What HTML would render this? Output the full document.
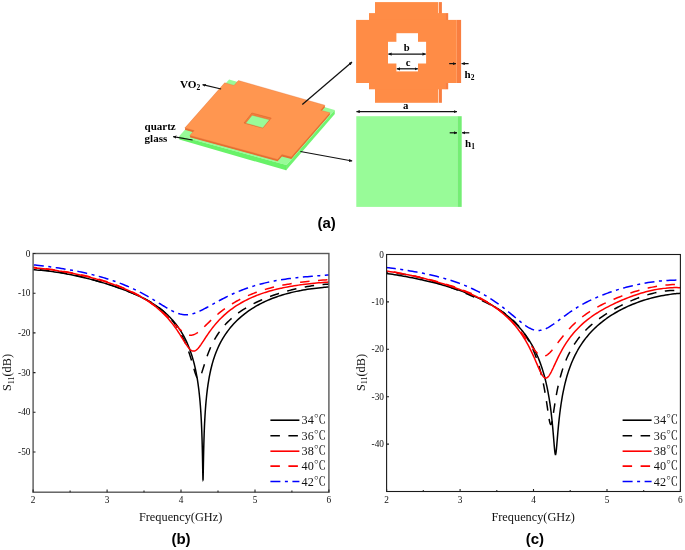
<!DOCTYPE html>
<html><head><meta charset="utf-8"><title>Figure</title>
<style>
html,body{margin:0;padding:0;background:#fff;}
svg{display:block;will-change:transform}
text{font-family:"Liberation Serif","Noto Serif CJK SC",serif;fill:#111}
.tk text{font-size:9.3px}
.lg text{font-size:12.2px}
.ax{font-size:12.3px}
.cap{font-family:"Liberation Sans",sans-serif;font-weight:bold;font-size:15px;fill:#000}
.b{font-weight:bold;font-size:12px;fill:#000}
</style></head><body>
<svg width="685" height="550" viewBox="0 0 685 550">
<defs>
<marker id="ah" viewBox="0 0 10 10" refX="9.5" refY="5" markerWidth="3.4" markerHeight="3.5" orient="auto-start-reverse" markerUnits="userSpaceOnUse"><path d="M0,0.3 L10,5 L0,9.7 z" fill="#111"/></marker>
</defs>
<rect width="685" height="550" fill="#fff"/>
<!-- 3D view -->
<polygon points="229.1,79.6 334.7,109.9 286.5,165.0 179.4,135.9" fill="#98fb98" />
<polygon points="179.4,135.9 286.5,165.0 286.1,170.3 179.3,139.6" fill="#68f268" />
<polygon points="334.7,109.9 286.5,165.0 286.1,170.3 334.8,114.1" fill="#70f470" />
<path d="M286.5,165.0 L286.1,170.3" stroke="#55e055" stroke-width="0.5"/>
<polygon points="238.4,82.3 325.0,107.1 320.7,112.0 330.0,114.6 291.3,158.9 281.9,156.4 277.6,161.2 189.8,137.3 194.2,132.4 184.8,129.8 224.7,84.6 234.0,87.2" fill="#e66e32" />
<polygon points="238.4,81.7 325.0,106.5 320.7,111.4 330.0,114.0 291.3,158.3 281.9,155.8 277.6,160.6 189.8,136.7 194.2,131.8 184.8,129.2 224.7,84.0 234.0,86.6" fill="#e66e32" />
<polygon points="238.4,81.1 325.0,105.9 320.7,110.8 330.0,113.4 291.3,157.7 281.9,155.2 277.6,160.0 189.8,136.1 194.2,131.2 184.8,128.6 224.7,83.4 234.0,86.0" fill="#e66e32" />
<polygon points="238.4,80.5 325.0,105.3 320.7,110.2 330.0,112.8 291.3,157.1 281.9,154.6 277.6,159.4 189.8,135.5 194.2,130.6 184.8,128.0 224.7,82.8 234.0,85.4" fill="#ff9650" stroke="#e2743a" stroke-width="0.35" stroke-linejoin="round"/>
<polygon points="251.9,113.0 271.2,118.1 262.8,128.0 244.0,123.0" fill="#f27c3c" stroke="#d8622a" stroke-width="0.5" stroke-linejoin="round"/>
<polygon points="252.1,115.2 269.5,119.8 262.8,127.9 245.7,123.2" fill="#98fb98" stroke="#d8622a" stroke-width="0.3"/>
<!-- top view: VO2 -->
<g fill="#f97e40">
<rect x="439" y="2.1" width="2.9" height="100.7"/>
<rect x="445.1" y="13.1" width="3.1" height="76.2"/>
<rect x="456.8" y="19.9" width="4.3" height="63.1"/>
</g>
<rect x="438.1" y="2.1" width="0.9" height="100.7" fill="#ffd9c0"/>
<g fill="#ff8c46">
<rect x="375" y="2.1" width="63.1" height="100.7"/>
<rect x="369" y="13.1" width="76.2" height="76.2"/>
<rect x="356.1" y="19.9" width="100.7" height="63.1"/>
</g>
<g fill="#fff">
<rect x="396.4" y="33.2" width="21.6" height="38.2"/>
<rect x="388" y="41.8" width="38.1" height="21.7"/>
</g>
<!-- top view: quartz -->
<rect x="356.3" y="116.2" width="101.3" height="90.7" fill="#98fb98"/>
<rect x="457.5" y="116.2" width="4.2" height="90.7" fill="#74ee74"/>
<!-- arrows -->
<g stroke="#111" stroke-width="1.25" fill="none">
<path d="M302.3,104.6 L352,62.1" marker-end="url(#ah)"/>
<path d="M300.4,151.5 L352.2,161" marker-end="url(#ah)"/>
<path d="M221.1,89 L202.6,84.7" marker-end="url(#ah)"/>
<path d="M192.6,140 L173.2,136.6" marker-end="url(#ah)"/>
<path d="M388.4,54.1 H425.7" marker-start="url(#ah)" marker-end="url(#ah)"/>
<path d="M396.8,68.8 H417.8" marker-start="url(#ah)" marker-end="url(#ah)"/>
<path d="M356.5,111.6 H456.9" marker-start="url(#ah)" marker-end="url(#ah)"/>
<path d="M449.2,63.6 H455.9" marker-end="url(#ah)"/>
<path d="M468.6,63.6 H461.6" marker-end="url(#ah)"/>
<path d="M449.7,132.8 H457" marker-end="url(#ah)"/>
<path d="M469.3,132.8 H462.1" marker-end="url(#ah)"/>
</g>
<g class="b">
<text x="179.9" y="88.1" class="b" style="font-size:11.2px">VO<tspan dy="2.1" style="font-size:7.5px">2</tspan></text>
<text x="144.6" y="130.1" class="b" style="font-size:11px">quartz</text>
<text x="144.6" y="142.3" class="b" style="font-size:11px">glass</text>
<text x="406.7" y="50.7" text-anchor="middle" class="b" style="font-size:10.6px">b</text>
<text x="408.2" y="66.4" text-anchor="middle" class="b" style="font-size:10.8px">c</text>
<text x="405.8" y="108.8" text-anchor="middle" class="b" style="font-size:10.8px">a</text>
<text x="464.6" y="77.8" class="b" style="font-size:11px">h<tspan dy="2.2" style="font-size:7.5px">2</tspan></text>
<text x="465.1" y="147.2" class="b" style="font-size:11px">h<tspan dy="2.2" style="font-size:7.5px">1</tspan></text>
</g>
<text class="cap" x="326.6" y="228.3" text-anchor="middle">(a)</text>
<!-- plot b -->
<clipPath id="cb"><rect x="33.1" y="253.5" width="295.8" height="238.7"/></clipPath>
<g clip-path="url(#cb)" fill="none" stroke-width="1.5">
<path d="M32.36,269.62 L34.58,269.82 L36.73,269.97 L36.80,269.98 L39.02,270.16 L41.23,270.35 L43.45,270.57 L45.67,270.81 L47.89,271.06 L50.11,271.33 L52.33,271.63 L53.45,271.78 L54.55,271.93 L56.76,272.26 L58.98,272.61 L61.20,272.97 L63.42,273.34 L65.64,273.74 L67.86,274.15 L68.49,274.27 L70.08,274.58 L72.29,275.02 L74.51,275.48 L76.73,275.95 L78.95,276.44 L81.17,276.95 L82.02,277.15 L83.39,277.47 L85.60,278.00 L87.82,278.56 L90.04,279.12 L92.26,279.70 L94.19,280.22 L94.48,280.30 L96.70,280.92 L98.92,281.54 L101.13,282.19 L103.35,282.85 L105.13,283.39 L105.57,283.53 L107.79,284.22 L110.01,284.93 L112.23,285.66 L114.45,286.40 L114.98,286.59 L116.66,287.17 L118.88,287.95 L121.10,288.75 L123.32,289.58 L123.83,289.77 L125.54,290.42 L127.76,291.29 L129.97,292.18 L131.80,292.93 L132.19,293.10 L134.41,294.05 L136.63,295.03 L138.85,296.05 L138.96,296.10 L141.07,297.10 L143.29,298.21 L145.40,299.30 L145.50,299.36 L147.72,300.57 L149.94,301.84 L151.19,302.58 L152.16,303.17 L154.38,304.58 L156.40,305.93 L156.60,306.07 L158.82,307.65 L161.03,309.32 L161.09,309.37 L163.25,311.11 L165.31,312.87 L165.47,313.02 L167.69,315.06 L169.10,316.44 L169.91,317.26 L172.13,319.63 L172.51,320.06 L174.34,322.20 L175.58,323.72 L176.56,325.00 L178.34,327.42 L178.78,328.06 L180.82,331.15 L181.00,331.44 L183.05,334.89 L183.22,335.19 L185.06,338.65 L185.44,339.40 L186.86,342.41 L187.66,344.19 L188.49,346.17 L189.87,349.72 L189.95,349.92 L191.26,353.67 L192.09,356.26 L192.44,357.42 L193.51,361.15 L194.31,364.26 L194.46,364.88 L195.32,368.61 L196.10,372.32 L196.53,374.59 L196.79,376.03 L197.42,379.73 L197.98,383.43 L198.49,387.11 L198.75,389.18 L198.94,390.78 L199.35,394.46 L199.72,398.12 L200.05,401.77 L200.35,405.41 L200.62,409.03 L200.86,412.64 L200.97,414.41 L201.07,416.23 L201.27,419.80 L201.44,423.35 L201.60,426.86 L201.74,430.34 L201.87,433.79 L201.99,437.17 L202.09,440.48 L202.18,443.74 L202.27,446.91 L202.34,449.96 L202.41,452.93 L202.47,455.75 L202.52,458.43 L202.57,460.93 L202.62,463.28 L202.66,465.45 L202.69,467.40 L202.73,469.20 L202.75,470.78 L202.78,472.17 L202.80,473.36 L202.82,474.44 L202.84,475.35 L202.86,476.11 L202.88,476.74 L202.89,477.29 L202.90,477.75 L202.91,478.12 L202.92,478.41 L202.93,478.66 L202.94,478.87 L202.95,479.04 L202.95,479.18 L202.96,479.30 L202.96,479.39 L202.97,479.47 L202.97,479.53 L202.98,479.58 L202.98,479.62 L202.98,479.65 L202.99,479.68 L202.99,479.70 L202.99,479.72 L202.99,479.73 L203.00,479.74 L203.00,479.75 L203.01,479.79 L203.03,479.75 L203.03,479.74 L203.03,479.73 L203.03,479.72 L203.03,479.70 L203.04,479.68 L203.04,479.66 L203.04,479.62 L203.05,479.59 L203.05,479.54 L203.05,479.48 L203.06,479.40 L203.07,479.31 L203.07,479.20 L203.08,479.06 L203.09,478.89 L203.09,478.68 L203.10,478.43 L203.11,478.14 L203.12,477.77 L203.14,477.31 L203.15,476.77 L203.16,476.15 L203.18,475.38 L203.18,475.21 L203.20,474.47 L203.22,473.40 L203.24,472.21 L203.27,470.83 L203.30,469.22 L203.33,467.47 L203.37,465.52 L203.41,463.36 L203.45,461.01 L203.50,458.52 L203.56,455.85 L203.62,453.04 L203.68,450.08 L203.76,447.05 L203.84,443.90 L203.94,440.65 L204.04,437.36 L204.15,433.98 L204.28,430.58 L204.42,427.13 L204.58,423.65 L204.76,420.14 L204.95,416.60 L205.17,413.05 L205.40,409.56 L205.41,409.48 L205.68,405.91 L205.97,402.33 L206.31,398.74 L206.67,395.15 L207.08,391.56 L207.54,387.97 L207.62,387.35 L208.04,384.37 L208.61,380.79 L209.23,377.20 L209.84,374.05 L209.93,373.62 L210.70,370.04 L211.56,366.47 L212.06,364.56 L212.52,362.90 L213.58,359.34 L214.28,357.20 L214.76,355.79 L216.08,352.25 L216.50,351.19 L217.54,348.71 L218.71,346.11 L219.16,345.18 L220.93,341.71 L220.97,341.65 L222.97,338.12 L223.15,337.83 L225.21,334.60 L225.37,334.36 L227.59,331.22 L227.69,331.09 L229.81,328.36 L230.45,327.58 L232.03,325.73 L233.51,324.07 L234.24,323.29 L236.46,321.03 L236.92,320.58 L238.68,318.92 L240.72,317.10 L240.90,316.94 L243.12,315.08 L244.93,313.65 L245.34,313.34 L247.56,311.69 L249.62,310.24 L249.77,310.14 L251.99,308.67 L254.21,307.28 L254.83,306.91 L256.43,305.97 L258.65,304.73 L260.62,303.69 L260.87,303.56 L263.08,302.45 L265.30,301.40 L267.07,300.61 L267.52,300.41 L269.74,299.47 L271.96,298.57 L274.18,297.73 L274.23,297.71 L276.40,296.93 L278.61,296.16 L280.83,295.44 L282.19,295.02 L283.05,294.76 L285.27,294.12 L287.49,293.50 L289.71,292.93 L291.05,292.59 L291.93,292.38 L294.14,291.86 L296.36,291.38 L298.58,290.92 L300.80,290.49 L300.89,290.47 L303.02,290.08 L305.24,289.70 L307.45,289.34 L309.67,289.01 L311.83,288.70 L311.89,288.70 L314.11,288.41 L316.33,288.14 L318.55,287.89 L320.77,287.66 L322.98,287.44 L324.00,287.35 L325.20,287.25 L327.42,287.07 L329.64,286.89" stroke="#000" />
<path d="M32.36,269.39 L34.58,269.60 L36.80,269.69 L39.02,269.82 L41.23,269.97 L43.45,270.15 L45.67,270.36 L47.89,270.59 L48.75,270.69 L50.11,270.85 L52.33,271.13 L54.55,271.43 L56.76,271.76 L58.98,272.10 L61.20,272.47 L63.42,272.86 L63.79,272.93 L65.64,273.27 L67.86,273.70 L70.08,274.15 L72.29,274.61 L74.51,275.10 L76.73,275.60 L77.32,275.73 L78.95,276.11 L81.17,276.64 L83.39,277.19 L85.60,277.76 L87.82,278.33 L89.49,278.78 L90.04,278.93 L92.26,279.53 L94.48,280.15 L96.70,280.79 L98.92,281.43 L100.43,281.89 L101.13,282.10 L103.35,282.77 L105.57,283.46 L107.79,284.16 L110.01,284.88 L110.28,284.97 L112.23,285.61 L114.45,286.36 L116.66,287.12 L118.88,287.89 L119.13,287.98 L121.10,288.69 L123.32,289.50 L125.54,290.33 L127.09,290.92 L127.76,291.18 L129.97,292.05 L132.19,292.95 L134.26,293.80 L134.41,293.87 L136.63,294.83 L138.85,295.82 L140.70,296.68 L141.07,296.86 L143.29,297.94 L145.50,299.09 L146.49,299.61 L147.72,300.29 L149.94,301.56 L151.70,302.63 L152.16,302.91 L154.38,304.35 L156.39,305.73 L156.60,305.88 L158.82,307.52 L160.61,308.93 L161.03,309.27 L163.25,311.16 L164.40,312.20 L165.47,313.20 L167.69,315.41 L167.81,315.54 L169.91,317.81 L170.88,318.93 L172.13,320.43 L173.64,322.36 L174.34,323.30 L176.12,325.80 L176.56,326.46 L178.35,329.25 L178.78,329.96 L180.36,332.68 L181.00,333.86 L182.16,336.08 L183.22,338.23 L183.79,339.44 L185.25,342.72 L185.44,343.17 L186.56,345.93 L187.66,348.79 L187.74,349.03 L188.81,352.01 L189.76,354.86 L189.87,355.20 L190.62,357.55 L191.40,360.07 L192.09,362.42 L192.09,362.42 L192.72,364.57 L193.28,366.53 L193.79,368.29 L194.24,369.85 L194.31,370.09 L194.65,371.23 L195.02,372.43 L195.35,373.46 L195.65,374.35 L195.91,375.10 L196.16,375.73 L196.37,376.27 L196.53,376.63 L196.57,376.71 L196.74,377.08 L196.90,377.38 L197.04,377.64 L197.17,377.85 L197.29,378.02 L197.39,378.16 L197.48,378.27 L197.56,378.37 L197.64,378.45 L197.71,378.51 L197.77,378.57 L197.82,378.61 L197.87,378.64 L197.92,378.67 L197.96,378.70 L197.99,378.72 L198.02,378.74 L198.05,378.75 L198.08,378.76 L198.10,378.77 L198.12,378.78 L198.14,378.79 L198.16,378.79 L198.17,378.80 L198.19,378.80 L198.20,378.80 L198.21,378.81 L198.22,378.81 L198.23,378.81 L198.24,378.81 L198.25,378.82 L198.25,378.82 L198.26,378.82 L198.26,378.82 L198.27,378.82 L198.27,378.82 L198.28,378.82 L198.28,378.82 L198.28,378.82 L198.29,378.82 L198.29,378.82 L198.29,378.82 L198.29,378.82 L198.29,378.82 L198.30,378.82 L198.31,378.83 L198.33,378.83 L198.33,378.83 L198.33,378.83 L198.33,378.83 L198.33,378.83 L198.34,378.83 L198.34,378.83 L198.34,378.83 L198.35,378.83 L198.35,378.83 L198.35,378.83 L198.36,378.83 L198.36,378.83 L198.37,378.83 L198.38,378.83 L198.38,378.83 L198.39,378.83 L198.40,378.83 L198.41,378.83 L198.42,378.83 L198.43,378.83 L198.45,378.83 L198.46,378.83 L198.48,378.83 L198.50,378.83 L198.52,378.82 L198.54,378.82 L198.57,378.81 L198.60,378.81 L198.63,378.80 L198.67,378.79 L198.71,378.77 L198.75,378.75 L198.75,378.75 L198.80,378.73 L198.85,378.70 L198.92,378.66 L198.98,378.61 L199.06,378.55 L199.14,378.48 L199.23,378.38 L199.34,378.27 L199.45,378.12 L199.58,377.95 L199.72,377.73 L199.88,377.46 L200.05,377.14 L200.25,376.74 L200.47,376.26 L200.71,375.68 L200.97,375.02 L200.98,375.00 L201.27,374.18 L201.60,373.23 L201.97,372.12 L202.38,370.84 L202.84,369.38 L203.18,368.26 L203.34,367.74 L203.91,365.92 L204.53,363.91 L205.23,361.73 L205.40,361.19 L206.00,359.39 L206.86,356.89 L207.62,354.79 L207.82,354.26 L208.88,351.52 L209.84,349.18 L210.06,348.67 L211.37,345.74 L212.06,344.30 L212.84,342.74 L214.28,340.02 L214.46,339.69 L216.27,336.60 L216.50,336.23 L218.27,333.49 L218.71,332.84 L220.50,330.35 L220.93,329.79 L222.99,327.21 L223.15,327.01 L225.37,324.47 L225.75,324.06 L227.59,322.13 L228.81,320.92 L229.81,319.97 L232.03,317.96 L232.22,317.79 L234.24,316.09 L236.02,314.68 L236.46,314.33 L238.68,312.69 L240.23,311.59 L240.90,311.13 L243.12,309.66 L244.92,308.53 L245.34,308.27 L247.56,306.95 L249.77,305.70 L250.13,305.50 L251.99,304.50 L254.21,303.36 L255.92,302.51 L256.43,302.27 L258.65,301.23 L260.87,300.23 L262.37,299.58 L263.08,299.27 L265.30,298.35 L267.52,297.47 L269.53,296.70 L269.74,296.62 L271.96,295.81 L274.18,295.03 L276.40,294.28 L277.49,293.92 L278.61,293.55 L280.83,292.86 L283.05,292.19 L285.27,291.55 L286.35,291.25 L287.49,290.94 L289.71,290.35 L291.93,289.79 L294.14,289.25 L296.19,288.78 L296.36,288.74 L298.58,288.25 L300.80,287.79 L303.02,287.35 L305.24,286.94 L307.13,286.60 L307.45,286.55 L309.67,286.18 L311.89,285.84 L314.11,285.52 L316.33,285.23 L318.55,284.97 L319.30,284.89 L320.77,284.73 L322.98,284.52 L325.20,284.33 L327.42,284.17 L329.64,283.94" stroke="#000" stroke-dasharray="9.5 8.5" stroke-dashoffset="10.54"/>
<path d="M32.36,267.69 L34.58,267.93 L36.80,268.13 L39.02,268.34 L41.23,268.57 L43.45,268.81 L43.84,268.85 L45.67,269.07 L47.89,269.34 L50.11,269.62 L52.33,269.92 L54.55,270.24 L56.76,270.57 L58.88,270.90 L58.98,270.92 L61.20,271.28 L63.42,271.65 L65.64,272.04 L67.86,272.44 L70.08,272.86 L72.29,273.30 L72.41,273.32 L74.51,273.75 L76.73,274.21 L78.95,274.69 L81.17,275.19 L83.39,275.71 L84.58,275.99 L85.60,276.24 L87.82,276.78 L90.04,277.35 L92.26,277.93 L94.48,278.53 L95.53,278.82 L96.70,279.15 L98.92,279.79 L101.13,280.44 L103.35,281.12 L105.37,281.76 L105.57,281.82 L107.79,282.54 L110.01,283.29 L112.23,284.06 L114.22,284.77 L114.45,284.85 L116.66,285.67 L118.88,286.52 L121.10,287.39 L122.19,287.83 L123.32,288.30 L125.54,289.24 L127.76,290.21 L129.35,290.93 L129.97,291.22 L132.19,292.26 L134.41,293.35 L135.79,294.05 L136.63,294.48 L138.85,295.67 L141.07,296.90 L141.58,297.20 L143.29,298.19 L145.50,299.55 L146.80,300.37 L147.72,300.97 L149.94,302.47 L151.48,303.56 L152.16,304.05 L154.38,305.72 L155.70,306.76 L156.60,307.48 L158.82,309.35 L159.49,309.94 L161.03,311.33 L162.90,313.10 L163.25,313.44 L165.47,315.69 L165.97,316.22 L167.69,318.09 L168.73,319.27 L169.91,320.65 L171.21,322.24 L172.13,323.39 L173.44,325.10 L174.34,326.32 L175.45,327.85 L176.56,329.44 L177.25,330.45 L178.78,332.75 L178.88,332.90 L180.34,335.18 L181.00,336.23 L181.65,337.27 L182.83,339.18 L183.22,339.80 L183.90,340.89 L184.85,342.42 L185.44,343.33 L185.71,343.76 L186.49,344.93 L187.18,345.93 L187.66,346.59 L187.81,346.80 L188.37,347.53 L188.88,348.14 L189.33,348.66 L189.74,349.09 L189.87,349.22 L190.11,349.45 L190.44,349.74 L190.74,349.99 L191.01,350.19 L191.25,350.35 L191.46,350.49 L191.66,350.60 L191.83,350.69 L191.99,350.77 L192.09,350.81 L192.13,350.83 L192.26,350.88 L192.38,350.92 L192.48,350.95 L192.57,350.98 L192.66,351.00 L192.73,351.02 L192.80,351.04 L192.86,351.05 L192.91,351.06 L192.96,351.07 L193.01,351.08 L193.05,351.08 L193.08,351.09 L193.12,351.09 L193.14,351.10 L193.17,351.10 L193.19,351.10 L193.21,351.10 L193.23,351.11 L193.25,351.11 L193.27,351.11 L193.28,351.11 L193.29,351.11 L193.30,351.11 L193.31,351.11 L193.32,351.11 L193.33,351.11 L193.34,351.11 L193.34,351.12 L193.35,351.12 L193.36,351.12 L193.36,351.12 L193.36,351.12 L193.37,351.12 L193.37,351.12 L193.37,351.12 L193.38,351.12 L193.38,351.12 L193.38,351.12 L193.38,351.12 L193.39,351.12 L193.39,351.12 L193.40,351.12 L193.42,351.12 L193.42,351.12 L193.42,351.12 L193.42,351.12 L193.43,351.12 L193.43,351.12 L193.43,351.12 L193.43,351.12 L193.44,351.12 L193.44,351.12 L193.45,351.12 L193.45,351.12 L193.46,351.12 L193.46,351.12 L193.47,351.12 L193.48,351.12 L193.48,351.12 L193.49,351.12 L193.50,351.12 L193.51,351.12 L193.53,351.12 L193.54,351.12 L193.56,351.12 L193.57,351.12 L193.59,351.12 L193.61,351.12 L193.64,351.12 L193.66,351.12 L193.69,351.12 L193.72,351.12 L193.76,351.12 L193.80,351.11 L193.84,351.11 L193.89,351.10 L193.95,351.10 L194.01,351.09 L194.07,351.08 L194.15,351.07 L194.23,351.05 L194.31,351.04 L194.33,351.03 L194.43,351.01 L194.54,350.98 L194.67,350.94 L194.81,350.89 L194.97,350.83 L195.15,350.75 L195.34,350.66 L195.56,350.54 L195.80,350.40 L196.07,350.22 L196.37,350.00 L196.53,349.87 L196.70,349.74 L197.06,349.41 L197.47,349.02 L197.93,348.54 L198.44,347.97 L198.75,347.59 L199.00,347.29 L199.62,346.48 L200.32,345.53 L200.97,344.61 L201.09,344.43 L201.95,343.16 L202.91,341.71 L203.18,341.29 L203.97,340.09 L205.15,338.28 L205.40,337.90 L206.47,336.29 L207.62,334.58 L207.93,334.13 L209.55,331.80 L209.84,331.40 L211.36,329.33 L212.06,328.41 L213.36,326.73 L214.28,325.60 L215.60,324.02 L216.50,322.98 L218.08,321.22 L218.71,320.53 L220.84,318.34 L220.93,318.24 L223.15,316.10 L223.90,315.40 L225.37,314.09 L227.31,312.43 L227.59,312.21 L229.81,310.44 L231.11,309.45 L232.03,308.78 L234.24,307.21 L235.32,306.48 L236.46,305.73 L238.68,304.34 L240.01,303.54 L240.90,303.02 L243.12,301.77 L245.22,300.65 L245.34,300.60 L247.56,299.48 L249.77,298.42 L251.02,297.85 L251.99,297.42 L254.21,296.47 L256.43,295.57 L257.46,295.17 L258.65,294.72 L260.87,293.91 L263.08,293.15 L264.62,292.64 L265.30,292.42 L267.52,291.74 L269.74,291.08 L271.96,290.47 L272.58,290.30 L274.18,289.88 L276.40,289.32 L278.61,288.80 L280.83,288.29 L281.44,288.16 L283.05,287.82 L285.27,287.37 L287.49,286.94 L289.71,286.54 L291.28,286.26 L291.93,286.15 L294.14,285.79 L296.36,285.44 L298.58,285.12 L300.80,284.81 L302.22,284.62 L303.02,284.51 L305.24,284.23 L307.45,283.97 L309.67,283.72 L311.89,283.48 L314.11,283.26 L314.39,283.23 L316.33,283.05 L318.55,282.85 L320.77,282.66 L322.98,282.48 L325.20,282.31 L327.42,282.15 L327.92,282.11 L329.64,282.00" stroke="#f00" />
<path d="M32.36,267.22 L34.58,267.46 L36.80,267.69 L39.02,267.93 L40.79,268.13 L41.23,268.18 L43.45,268.44 L45.67,268.71 L47.89,269.00 L50.11,269.29 L52.33,269.60 L54.55,269.92 L55.83,270.11 L56.76,270.25 L58.98,270.59 L61.20,270.95 L63.42,271.32 L65.64,271.71 L67.86,272.10 L69.36,272.38 L70.08,272.51 L72.29,272.94 L74.51,273.38 L76.73,273.83 L78.95,274.30 L81.17,274.79 L81.52,274.87 L83.39,275.29 L85.60,275.81 L87.82,276.35 L90.04,276.90 L92.26,277.47 L92.47,277.53 L94.48,278.06 L96.70,278.68 L98.92,279.31 L101.13,279.96 L102.31,280.32 L103.35,280.63 L105.57,281.33 L107.79,282.05 L110.01,282.80 L111.16,283.20 L112.23,283.57 L114.45,284.37 L116.66,285.20 L118.88,286.06 L119.13,286.15 L121.10,286.95 L123.32,287.87 L125.54,288.82 L126.29,289.16 L127.76,289.82 L129.97,290.85 L132.19,291.92 L132.73,292.18 L134.41,293.03 L136.63,294.19 L138.53,295.21 L138.85,295.39 L141.07,296.65 L143.29,297.96 L143.74,298.24 L145.50,299.33 L147.72,300.77 L148.43,301.23 L149.94,302.26 L152.16,303.83 L152.64,304.18 L154.38,305.47 L156.43,307.06 L156.60,307.18 L158.82,308.98 L159.84,309.84 L161.03,310.86 L162.91,312.51 L163.25,312.82 L165.47,314.87 L165.67,315.05 L167.69,316.99 L168.15,317.44 L169.91,319.19 L170.38,319.67 L172.13,321.44 L172.39,321.71 L174.20,323.57 L174.34,323.73 L175.82,325.25 L176.56,326.01 L177.28,326.74 L178.60,328.04 L178.78,328.23 L179.78,329.18 L180.84,330.17 L181.00,330.31 L181.80,331.01 L182.66,331.72 L183.22,332.16 L183.43,332.32 L184.12,332.82 L184.75,333.24 L185.31,333.59 L185.44,333.66 L185.82,333.88 L186.27,334.12 L186.68,334.31 L187.05,334.47 L187.38,334.61 L187.66,334.71 L187.68,334.72 L187.95,334.81 L188.19,334.88 L188.41,334.94 L188.60,334.99 L188.78,335.03 L188.93,335.06 L189.08,335.09 L189.20,335.11 L189.32,335.13 L189.42,335.15 L189.51,335.16 L189.60,335.17 L189.67,335.18 L189.74,335.19 L189.80,335.19 L189.86,335.20 L189.87,335.20 L189.91,335.20 L189.95,335.21 L189.99,335.21 L190.02,335.21 L190.06,335.21 L190.09,335.22 L190.11,335.22 L190.14,335.22 L190.16,335.22 L190.18,335.22 L190.19,335.22 L190.21,335.22 L190.22,335.22 L190.23,335.22 L190.25,335.23 L190.26,335.23 L190.26,335.23 L190.27,335.23 L190.28,335.23 L190.29,335.23 L190.29,335.23 L190.30,335.23 L190.30,335.23 L190.31,335.23 L190.31,335.23 L190.31,335.23 L190.32,335.23 L190.32,335.23 L190.32,335.23 L190.32,335.23 L190.33,335.23 L190.33,335.23 L190.33,335.23 L190.35,335.23 L190.36,335.23 L190.36,335.23 L190.36,335.23 L190.37,335.23 L190.37,335.23 L190.37,335.23 L190.37,335.23 L190.38,335.23 L190.38,335.23 L190.38,335.23 L190.39,335.23 L190.39,335.23 L190.40,335.23 L190.40,335.23 L190.41,335.23 L190.42,335.23 L190.43,335.23 L190.43,335.23 L190.44,335.23 L190.46,335.23 L190.47,335.23 L190.48,335.23 L190.50,335.23 L190.51,335.23 L190.53,335.23 L190.55,335.23 L190.58,335.23 L190.60,335.23 L190.63,335.23 L190.66,335.23 L190.70,335.23 L190.74,335.23 L190.78,335.23 L190.83,335.23 L190.89,335.23 L190.95,335.23 L191.02,335.22 L191.09,335.22 L191.18,335.21 L191.27,335.21 L191.37,335.20 L191.49,335.19 L191.61,335.17 L191.76,335.15 L191.91,335.13 L192.09,335.10 L192.09,335.10 L192.28,335.06 L192.50,335.02 L192.74,334.96 L193.01,334.89 L193.31,334.80 L193.64,334.69 L194.01,334.55 L194.31,334.42 L194.42,334.38 L194.87,334.17 L195.38,333.91 L195.94,333.60 L196.53,333.25 L196.57,333.22 L197.26,332.76 L198.03,332.21 L198.75,331.67 L198.89,331.55 L199.85,330.77 L200.91,329.86 L200.97,329.81 L202.09,328.79 L203.18,327.78 L203.41,327.57 L204.87,326.17 L205.40,325.65 L206.49,324.59 L207.62,323.50 L208.30,322.84 L209.84,321.36 L210.31,320.91 L212.06,319.27 L212.54,318.82 L214.28,317.24 L215.02,316.58 L216.50,315.29 L217.78,314.20 L218.71,313.42 L220.85,311.70 L220.93,311.63 L223.15,309.92 L224.26,309.10 L225.37,308.30 L227.59,306.75 L228.05,306.44 L229.81,305.28 L232.03,303.87 L232.27,303.73 L234.24,302.54 L236.46,301.27 L236.95,301.00 L238.68,300.06 L240.90,298.91 L242.16,298.28 L243.12,297.82 L245.34,296.77 L247.56,295.78 L247.96,295.61 L249.77,294.84 L251.99,293.94 L254.21,293.08 L254.40,293.01 L256.43,292.27 L258.65,291.49 L260.87,290.76 L261.56,290.53 L263.08,290.06 L265.30,289.39 L267.52,288.75 L269.53,288.21 L269.74,288.15 L271.96,287.58 L274.18,287.03 L276.40,286.51 L278.38,286.07 L278.61,286.02 L280.83,285.55 L283.05,285.10 L285.27,284.68 L287.49,284.28 L288.22,284.15 L289.71,283.89 L291.93,283.53 L294.14,283.19 L296.36,282.86 L298.58,282.55 L299.17,282.48 L300.80,282.26 L303.02,281.98 L305.24,281.72 L307.45,281.47 L309.67,281.24 L311.33,281.07 L311.89,281.02 L314.11,280.81 L316.33,280.61 L318.55,280.42 L320.77,280.25 L322.98,280.08 L324.86,279.95 L325.20,279.93 L327.42,279.78 L329.64,279.65" stroke="#f00" stroke-dasharray="9.5 8.5" stroke-dashoffset="4.65"/>
<path d="M32.36,264.80 L34.58,265.02 L35.55,265.12 L36.80,265.26 L39.02,265.50 L41.23,265.75 L43.45,266.02 L45.67,266.29 L47.89,266.56 L50.11,266.85 L50.59,266.92 L52.33,267.15 L54.55,267.46 L56.76,267.78 L58.98,268.11 L61.20,268.45 L63.42,268.80 L64.12,268.92 L65.64,269.17 L67.86,269.55 L70.08,269.93 L72.29,270.34 L74.51,270.75 L76.29,271.10 L76.73,271.18 L78.95,271.63 L81.17,272.09 L83.39,272.56 L85.60,273.05 L87.23,273.42 L87.82,273.56 L90.04,274.09 L92.26,274.63 L94.48,275.19 L96.70,275.77 L97.07,275.87 L98.92,276.37 L101.13,277.00 L103.35,277.64 L105.57,278.30 L105.93,278.41 L107.79,278.99 L110.01,279.70 L112.23,280.44 L113.89,281.01 L114.45,281.20 L116.66,281.99 L118.88,282.81 L121.05,283.64 L121.10,283.66 L123.32,284.53 L125.54,285.44 L127.50,286.26 L127.76,286.37 L129.97,287.34 L132.19,288.34 L133.29,288.85 L134.41,289.38 L136.63,290.45 L138.50,291.38 L138.85,291.56 L141.07,292.70 L143.19,293.83 L143.29,293.88 L145.50,295.09 L147.40,296.16 L147.72,296.34 L149.94,297.62 L151.20,298.36 L152.16,298.93 L154.38,300.27 L154.61,300.41 L156.60,301.62 L157.67,302.29 L158.82,303.00 L160.43,304.00 L161.03,304.38 L162.92,305.54 L163.25,305.75 L165.15,306.91 L165.47,307.10 L167.16,308.10 L167.69,308.42 L168.96,309.15 L169.91,309.67 L170.58,310.04 L172.05,310.81 L172.13,310.85 L173.36,311.46 L174.34,311.92 L174.54,312.01 L175.60,312.47 L176.56,312.85 L176.56,312.85 L177.42,313.17 L178.19,313.44 L178.78,313.63 L178.89,313.66 L179.51,313.84 L180.08,314.00 L180.58,314.12 L181.00,314.22 L181.04,314.23 L181.45,314.31 L181.82,314.38 L182.15,314.44 L182.44,314.49 L182.71,314.53 L182.95,314.57 L183.17,314.59 L183.22,314.60 L183.36,314.62 L183.54,314.64 L183.70,314.66 L183.84,314.67 L183.97,314.68 L184.08,314.69 L184.19,314.70 L184.28,314.71 L184.36,314.71 L184.44,314.72 L184.50,314.72 L184.57,314.73 L184.62,314.73 L184.67,314.74 L184.71,314.74 L184.75,314.74 L184.79,314.74 L184.82,314.74 L184.85,314.75 L184.88,314.75 L184.90,314.75 L184.92,314.75 L184.94,314.75 L184.96,314.75 L184.97,314.75 L184.99,314.75 L185.00,314.75 L185.01,314.75 L185.02,314.75 L185.03,314.75 L185.04,314.75 L185.04,314.75 L185.05,314.76 L185.06,314.76 L185.06,314.76 L185.07,314.76 L185.07,314.76 L185.07,314.76 L185.08,314.76 L185.08,314.76 L185.08,314.76 L185.09,314.76 L185.09,314.76 L185.09,314.76 L185.09,314.76 L185.09,314.76 L185.11,314.76 L185.12,314.76 L185.12,314.76 L185.13,314.76 L185.13,314.76 L185.13,314.76 L185.13,314.76 L185.14,314.76 L185.14,314.76 L185.14,314.76 L185.15,314.76 L185.15,314.76 L185.16,314.76 L185.16,314.76 L185.17,314.76 L185.17,314.76 L185.18,314.76 L185.19,314.76 L185.20,314.76 L185.21,314.76 L185.22,314.76 L185.23,314.76 L185.25,314.76 L185.26,314.76 L185.28,314.76 L185.30,314.76 L185.32,314.76 L185.34,314.77 L185.37,314.77 L185.40,314.77 L185.43,314.77 L185.44,314.77 L185.46,314.77 L185.50,314.77 L185.55,314.77 L185.60,314.77 L185.65,314.77 L185.71,314.77 L185.78,314.77 L185.86,314.78 L185.94,314.78 L186.03,314.78 L186.14,314.78 L186.25,314.77 L186.38,314.77 L186.52,314.77 L186.68,314.77 L186.85,314.76 L187.05,314.75 L187.26,314.74 L187.50,314.73 L187.66,314.72 L187.77,314.71 L188.07,314.68 L188.40,314.65 L188.77,314.61 L189.18,314.55 L189.64,314.49 L189.87,314.45 L190.14,314.40 L190.70,314.30 L191.33,314.16 L192.02,314.00 L192.09,313.98 L192.80,313.79 L193.66,313.54 L194.31,313.33 L194.61,313.23 L195.68,312.85 L196.53,312.52 L196.86,312.39 L198.17,311.84 L198.75,311.59 L199.63,311.18 L200.97,310.55 L201.26,310.41 L203.06,309.50 L203.18,309.43 L205.07,308.44 L205.40,308.26 L207.30,307.23 L207.62,307.05 L209.78,305.86 L209.84,305.82 L212.06,304.59 L212.54,304.32 L214.28,303.36 L215.61,302.62 L216.50,302.13 L218.71,300.93 L219.02,300.76 L220.93,299.74 L222.81,298.76 L223.15,298.59 L225.37,297.46 L227.03,296.63 L227.59,296.36 L229.81,295.29 L231.72,294.40 L232.03,294.26 L234.24,293.26 L236.46,292.30 L236.93,292.10 L238.68,291.37 L240.90,290.48 L242.72,289.77 L243.12,289.62 L245.34,288.80 L247.56,288.01 L249.16,287.46 L249.77,287.25 L251.99,286.53 L254.21,285.85 L256.33,285.22 L256.43,285.19 L258.65,284.57 L260.87,283.98 L263.08,283.42 L264.29,283.13 L265.30,282.89 L267.52,282.38 L269.74,281.90 L271.96,281.45 L273.14,281.22 L274.18,281.02 L276.40,280.61 L278.61,280.22 L280.83,279.85 L282.99,279.52 L283.05,279.51 L285.27,279.18 L287.49,278.86 L289.71,278.57 L291.93,278.28 L293.93,278.04 L294.14,278.02 L296.36,277.76 L298.58,277.52 L300.80,277.29 L303.02,277.06 L305.24,276.85 L306.10,276.77 L307.45,276.65 L309.67,276.45 L311.89,276.27 L314.11,276.08 L316.33,275.91 L318.55,275.74 L319.63,275.65 L320.77,275.57 L322.98,275.40 L325.20,275.24 L327.42,275.08 L329.64,274.95" stroke="#00f" stroke-dasharray="10 4.5 3 4.5" stroke-dashoffset="20.49"/>
</g>
<rect x="33.1" y="253.5" width="295.8" height="238.7" fill="none" stroke="#585858" stroke-width="1.4"/>
<path d="M33.1,492.2 v-2.6 M70.1,492.2 v-1.6 M107.1,492.2 v-2.6 M144.0,492.2 v-1.6 M181.0,492.2 v-2.6 M218.0,492.2 v-1.6 M255.0,492.2 v-2.6 M291.9,492.2 v-1.6 M328.9,492.2 v-2.6 M33.1,253.5 h2.4 M33.1,293.2 h2.4 M33.1,332.9 h2.4 M33.1,372.6 h2.4 M33.1,412.3 h2.4 M33.1,452.0 h2.4" stroke="#222" stroke-width="1.1" fill="none"/>
<g class="tk">
<text x="33.1" y="503.4" text-anchor="middle">2</text>
<text x="107.1" y="503.4" text-anchor="middle">3</text>
<text x="181.0" y="503.4" text-anchor="middle">4</text>
<text x="255.0" y="503.4" text-anchor="middle">5</text>
<text x="328.9" y="503.4" text-anchor="middle">6</text>
<text x="30.5" y="256.6" text-anchor="end">0</text>
<text x="30.5" y="296.3" text-anchor="end">-10</text>
<text x="30.5" y="336.0" text-anchor="end">-20</text>
<text x="30.5" y="375.7" text-anchor="end">-30</text>
<text x="30.5" y="415.4" text-anchor="end">-40</text>
<text x="30.5" y="455.1" text-anchor="end">-50</text>
</g>
<g stroke-width="1.6" fill="none">
<path d="M270.4,420.2 h29" stroke="#000" />
<path d="M270.4,435.8 h29" stroke="#000" stroke-dasharray="9.5 8.5"/>
<path d="M270.4,451.2 h29" stroke="#f00" />
<path d="M270.4,466.1 h29" stroke="#f00" stroke-dasharray="9.5 8.5"/>
<path d="M270.4,481.5 h29" stroke="#00f" stroke-dasharray="10 4.5 3 4.5"/>
</g>
<g class="lg">
<text x="301.6" y="424.4">34℃</text>
<text x="301.6" y="440.0">36℃</text>
<text x="301.6" y="455.4">38℃</text>
<text x="301.6" y="470.3">40℃</text>
<text x="301.6" y="485.7">42℃</text>
</g>
<text class="ax" x="180.6" y="521.4" text-anchor="middle">Frequency(GHz)</text>
<text class="ax" transform="translate(11.1,372.5) rotate(-90)" text-anchor="middle">S<tspan dy="2.5" style="font-size:8px">11</tspan><tspan dy="-2.5">(dB)</tspan></text>
<text class="cap" x="181.0" y="543.7" text-anchor="middle">(b)</text>
<!-- plot c -->
<clipPath id="cc"><rect x="386.6" y="254.5" width="293.8" height="237.0"/></clipPath>
<g clip-path="url(#cc)" fill="none" stroke-width="1.5">
<path d="M385.87,273.37 L388.07,273.68 L390.27,274.01 L390.33,274.02 L392.48,274.35 L394.68,274.70 L396.88,275.06 L399.09,275.43 L401.29,275.81 L403.49,276.20 L405.70,276.60 L406.94,276.82 L407.90,277.00 L410.10,277.42 L412.31,277.85 L414.51,278.29 L416.71,278.74 L418.92,279.20 L421.12,279.68 L421.88,279.84 L423.33,280.16 L425.53,280.66 L427.73,281.18 L429.94,281.70 L432.14,282.25 L434.34,282.80 L435.31,283.05 L436.55,283.37 L438.75,283.96 L440.95,284.56 L443.16,285.18 L445.36,285.82 L447.40,286.42 L447.56,286.47 L449.77,287.15 L451.97,287.84 L454.17,288.56 L456.38,289.29 L458.27,289.94 L458.58,290.05 L460.78,290.83 L462.99,291.64 L465.19,292.47 L467.40,293.33 L468.05,293.59 L469.60,294.21 L471.80,295.13 L474.01,296.07 L476.21,297.05 L476.84,297.34 L478.41,298.06 L480.62,299.11 L482.82,300.20 L484.75,301.18 L485.02,301.32 L487.23,302.49 L489.43,303.71 L491.63,304.98 L491.86,305.11 L493.84,306.30 L496.04,307.67 L498.24,309.11 L498.26,309.13 L500.45,310.62 L502.65,312.20 L504.01,313.22 L504.85,313.86 L507.06,315.60 L509.19,317.38 L509.26,317.44 L511.47,319.38 L513.67,321.43 L513.85,321.60 L515.87,323.61 L518.03,325.88 L518.08,325.92 L520.28,328.39 L521.80,330.19 L522.48,331.03 L524.69,333.86 L525.19,334.53 L526.89,336.91 L528.24,338.90 L529.09,340.22 L530.98,343.28 L531.30,343.83 L533.44,347.68 L533.50,347.79 L535.66,352.07 L535.70,352.17 L537.65,356.47 L537.91,357.07 L539.44,360.86 L540.11,362.62 L541.06,365.24 L542.31,369.00 L542.51,369.61 L543.81,373.95 L544.52,376.50 L544.99,378.28 L546.04,382.58 L546.72,385.59 L546.99,386.85 L547.85,391.08 L548.61,395.26 L548.92,397.07 L549.30,399.39 L549.93,403.45 L550.49,407.44 L550.99,411.34 L551.13,412.49 L551.44,415.14 L551.85,418.81 L552.21,422.35 L552.54,425.73 L552.84,428.94 L553.10,431.96 L553.33,434.62 L553.34,434.76 L553.56,437.35 L553.75,439.70 L553.93,441.82 L554.08,443.72 L554.22,445.39 L554.35,446.85 L554.46,448.11 L554.57,449.19 L554.66,450.10 L554.74,450.87 L554.82,451.52 L554.88,452.06 L554.94,452.50 L555.00,452.87 L555.05,453.18 L555.09,453.42 L555.13,453.63 L555.17,453.79 L555.20,453.93 L555.23,454.04 L555.25,454.13 L555.28,454.21 L555.30,454.27 L555.32,454.31 L555.33,454.35 L555.35,454.39 L555.36,454.41 L555.37,454.43 L555.38,454.45 L555.39,454.47 L555.40,454.48 L555.41,454.49 L555.42,454.49 L555.43,454.50 L555.43,454.50 L555.44,454.51 L555.44,454.51 L555.45,454.51 L555.45,454.52 L555.45,454.52 L555.46,454.52 L555.46,454.52 L555.46,454.52 L555.46,454.52 L555.47,454.52 L555.47,454.52 L555.47,454.53 L555.48,454.53 L555.50,454.53 L555.50,454.53 L555.50,454.53 L555.50,454.53 L555.51,454.53 L555.51,454.53 L555.51,454.52 L555.51,454.52 L555.52,454.52 L555.52,454.52 L555.53,454.52 L555.53,454.52 L555.54,454.51 L555.54,454.51 L555.54,454.51 L555.55,454.50 L555.56,454.50 L555.56,454.49 L555.57,454.48 L555.58,454.46 L555.59,454.45 L555.61,454.43 L555.62,454.41 L555.63,454.38 L555.65,454.34 L555.67,454.29 L555.69,454.24 L555.71,454.16 L555.74,454.08 L555.77,453.97 L555.80,453.84 L555.84,453.68 L555.88,453.48 L555.92,453.24 L555.97,452.94 L556.02,452.58 L556.08,452.14 L556.15,451.61 L556.23,450.98 L556.31,450.21 L556.40,449.32 L556.50,448.25 L556.62,447.01 L556.74,445.57 L556.88,443.92 L557.04,442.04 L557.22,439.94 L557.41,437.62 L557.62,435.07 L557.74,433.73 L557.86,432.29 L558.13,429.31 L558.43,426.16 L558.75,422.82 L559.12,419.33 L559.53,415.71 L559.94,412.27 L559.98,411.98 L560.48,408.15 L561.04,404.24 L561.66,400.26 L562.15,397.40 L562.35,396.23 L563.12,392.15 L563.98,388.04 L564.35,386.36 L564.92,383.90 L565.98,379.74 L566.55,377.65 L567.15,375.57 L568.46,371.39 L568.76,370.50 L569.91,367.21 L570.96,364.44 L571.52,363.03 L573.16,359.19 L573.32,358.85 L575.31,354.68 L575.37,354.57 L577.53,350.53 L577.57,350.45 L579.77,346.73 L579.99,346.38 L581.98,343.35 L582.73,342.26 L584.18,340.25 L585.78,338.16 L586.38,337.40 L588.59,334.75 L589.17,334.09 L590.79,332.29 L592.93,330.05 L592.99,329.99 L595.20,327.83 L597.12,326.05 L597.40,325.80 L599.61,323.89 L601.78,322.11 L601.81,322.08 L604.01,320.37 L606.22,318.75 L606.95,318.22 L608.42,317.20 L610.62,315.74 L612.71,314.41 L612.83,314.34 L615.03,313.00 L617.23,311.73 L619.11,310.70 L619.44,310.52 L621.64,309.36 L623.84,308.26 L626.05,307.20 L626.22,307.12 L628.25,306.19 L630.45,305.23 L632.66,304.31 L634.13,303.72 L634.86,303.43 L637.06,302.60 L639.27,301.80 L641.47,301.04 L642.92,300.56 L643.67,300.32 L645.88,299.64 L648.08,298.99 L650.29,298.38 L652.49,297.80 L652.70,297.75 L654.69,297.26 L656.90,296.75 L659.10,296.27 L661.30,295.83 L663.51,295.42 L663.57,295.41 L665.71,295.04 L667.91,294.69 L670.12,294.38 L672.32,294.10 L674.52,293.84 L675.66,293.73 L676.73,293.62 L678.93,293.44 L681.13,293.22" stroke="#000" />
<path d="M385.87,272.89 L388.07,273.00 L390.27,273.05 L392.48,273.15 L394.68,273.29 L396.88,273.47 L399.09,273.70 L401.29,273.96 L402.20,274.08 L403.49,274.26 L405.70,274.60 L407.90,274.97 L410.10,275.38 L412.31,275.81 L414.51,276.28 L416.71,276.78 L417.14,276.88 L418.92,277.31 L421.12,277.87 L423.33,278.45 L425.53,279.06 L427.73,279.69 L429.94,280.35 L430.57,280.54 L432.14,281.03 L434.34,281.73 L436.55,282.44 L438.75,283.18 L440.95,283.94 L442.66,284.53 L443.16,284.71 L445.36,285.50 L447.56,286.30 L449.77,287.12 L451.97,287.96 L453.53,288.56 L454.17,288.81 L456.38,289.67 L458.58,290.54 L460.78,291.43 L462.99,292.33 L463.31,292.46 L465.19,293.24 L467.40,294.17 L469.60,295.10 L471.80,296.05 L472.10,296.18 L474.01,297.02 L476.21,297.99 L478.41,298.99 L480.01,299.71 L480.62,299.99 L482.82,301.02 L485.02,302.06 L487.12,303.08 L487.23,303.14 L489.43,304.24 L491.63,305.38 L493.52,306.40 L493.84,306.57 L496.04,307.82 L498.24,309.13 L499.28,309.76 L500.45,310.51 L502.65,311.97 L504.45,313.23 L504.85,313.52 L507.06,315.18 L509.11,316.82 L509.26,316.95 L511.47,318.85 L513.29,320.54 L513.67,320.90 L515.87,323.12 L517.06,324.40 L518.08,325.53 L520.28,328.15 L520.45,328.36 L522.48,331.01 L523.50,332.42 L524.69,334.15 L526.24,336.55 L526.89,337.62 L528.70,340.75 L529.09,341.46 L530.92,344.98 L531.30,345.76 L532.91,349.25 L533.50,350.60 L534.70,353.52 L535.70,356.11 L536.32,357.79 L537.77,362.03 L537.91,362.46 L539.07,366.24 L540.11,369.89 L540.25,370.39 L541.30,374.49 L542.25,378.49 L542.31,378.77 L543.11,382.41 L543.87,386.21 L544.52,389.61 L544.57,389.87 L545.19,393.39 L545.75,396.74 L546.25,399.90 L546.70,402.86 L546.72,402.99 L547.11,405.60 L547.47,408.11 L547.80,410.38 L548.10,412.42 L548.36,414.23 L548.60,415.82 L548.82,417.20 L548.92,417.86 L549.01,418.39 L549.19,419.41 L549.34,420.27 L549.48,420.99 L549.61,421.59 L549.72,422.10 L549.83,422.52 L549.92,422.86 L550.00,423.15 L550.08,423.38 L550.14,423.57 L550.20,423.73 L550.26,423.86 L550.31,423.97 L550.35,424.05 L550.39,424.12 L550.43,424.18 L550.46,424.23 L550.49,424.27 L550.51,424.30 L550.54,424.33 L550.56,424.35 L550.58,424.37 L550.59,424.38 L550.61,424.39 L550.62,424.40 L550.63,424.41 L550.64,424.42 L550.65,424.43 L550.66,424.43 L550.67,424.43 L550.68,424.44 L550.69,424.44 L550.69,424.44 L550.70,424.45 L550.70,424.45 L550.71,424.45 L550.71,424.45 L550.71,424.45 L550.72,424.45 L550.72,424.45 L550.72,424.45 L550.72,424.45 L550.73,424.45 L550.73,424.45 L550.73,424.45 L550.74,424.46 L550.76,424.46 L550.76,424.46 L550.76,424.46 L550.76,424.46 L550.77,424.46 L550.77,424.46 L550.77,424.46 L550.77,424.46 L550.78,424.46 L550.78,424.46 L550.79,424.46 L550.79,424.46 L550.80,424.46 L550.80,424.46 L550.81,424.46 L550.82,424.46 L550.82,424.46 L550.83,424.45 L550.84,424.45 L550.85,424.45 L550.87,424.44 L550.88,424.44 L550.90,424.43 L550.91,424.42 L550.93,424.41 L550.95,424.40 L550.98,424.38 L551.00,424.35 L551.03,424.32 L551.06,424.29 L551.10,424.24 L551.13,424.19 L551.14,424.18 L551.18,424.11 L551.23,424.02 L551.28,423.91 L551.34,423.77 L551.41,423.60 L551.49,423.39 L551.57,423.13 L551.66,422.82 L551.76,422.43 L551.88,421.96 L552.00,421.40 L552.15,420.72 L552.30,419.91 L552.48,418.96 L552.67,417.83 L552.88,416.52 L553.12,415.01 L553.33,413.67 L553.39,413.28 L553.69,411.34 L554.02,409.17 L554.38,406.78 L554.79,404.17 L555.24,401.36 L555.54,399.58 L555.74,398.36 L556.30,395.19 L556.92,391.87 L557.61,388.41 L557.74,387.82 L558.38,384.85 L559.24,381.20 L559.94,378.39 L560.19,377.47 L561.24,373.69 L562.15,370.71 L562.41,369.86 L563.72,366.01 L564.35,364.29 L565.17,362.15 L566.55,358.80 L566.78,358.27 L568.58,354.40 L568.76,354.04 L570.57,350.54 L570.96,349.84 L572.79,346.69 L573.16,346.08 L575.25,342.86 L575.37,342.70 L577.57,339.61 L577.99,339.05 L579.77,336.79 L581.04,335.27 L581.98,334.18 L584.18,331.77 L584.43,331.51 L586.38,329.51 L588.19,327.77 L588.59,327.40 L590.79,325.41 L592.38,324.04 L592.99,323.53 L595.20,321.75 L597.04,320.33 L597.40,320.06 L599.61,318.44 L601.81,316.89 L602.21,316.62 L604.01,315.41 L606.22,313.98 L607.97,312.88 L608.42,312.60 L610.62,311.26 L612.83,309.98 L614.37,309.10 L615.03,308.73 L617.23,307.52 L619.44,306.35 L621.48,305.30 L621.64,305.22 L623.84,304.13 L626.05,303.07 L628.25,302.06 L629.39,301.54 L630.45,301.07 L632.66,300.13 L634.86,299.22 L637.06,298.35 L638.18,297.93 L639.27,297.52 L641.47,296.73 L643.67,295.98 L645.88,295.27 L647.96,294.64 L648.08,294.60 L650.29,293.98 L652.49,293.40 L654.69,292.86 L656.90,292.38 L658.83,291.99 L659.10,291.94 L661.30,291.55 L663.51,291.22 L665.71,290.94 L667.91,290.71 L670.12,290.54 L670.92,290.49 L672.32,290.43 L674.52,290.38 L676.73,290.40 L678.93,290.47 L681.13,290.37" stroke="#000" stroke-dasharray="9.5 8.5" stroke-dashoffset="7.19"/>
<path d="M385.87,270.98 L388.07,271.31 L390.27,271.65 L392.48,272.00 L394.68,272.37 L396.88,272.75 L397.06,272.78 L399.09,273.14 L401.29,273.54 L403.49,273.96 L405.70,274.39 L407.90,274.83 L410.10,275.29 L412.00,275.69 L412.31,275.76 L414.51,276.24 L416.71,276.74 L418.92,277.24 L421.12,277.77 L423.33,278.30 L425.44,278.83 L425.53,278.85 L427.73,279.42 L429.94,279.99 L432.14,280.59 L434.34,281.20 L436.55,281.82 L437.53,282.10 L438.75,282.46 L440.95,283.12 L443.16,283.79 L445.36,284.48 L447.56,285.19 L448.40,285.46 L449.77,285.92 L451.97,286.67 L454.17,287.44 L456.38,288.23 L458.17,288.89 L458.58,289.05 L460.78,289.88 L462.99,290.75 L465.19,291.64 L466.97,292.38 L467.40,292.56 L469.60,293.50 L471.80,294.48 L474.01,295.50 L474.88,295.91 L476.21,296.55 L478.41,297.63 L480.62,298.76 L481.99,299.48 L482.82,299.93 L485.02,301.15 L487.23,302.41 L488.39,303.10 L489.43,303.74 L491.63,305.12 L493.84,306.57 L494.14,306.78 L496.04,308.10 L498.24,309.71 L499.32,310.52 L500.45,311.40 L502.65,313.19 L503.98,314.31 L504.85,315.08 L507.06,317.09 L508.16,318.14 L509.26,319.22 L511.47,321.50 L511.93,322.00 L513.67,323.93 L515.32,325.86 L515.87,326.53 L518.08,329.32 L518.36,329.70 L520.28,332.32 L521.10,333.50 L522.48,335.56 L523.57,337.24 L524.69,339.05 L525.79,340.90 L526.89,342.83 L527.78,344.44 L529.09,346.92 L529.57,347.86 L531.19,351.11 L531.30,351.34 L532.64,354.19 L533.50,356.08 L533.94,357.07 L535.12,359.74 L535.70,361.09 L536.17,362.18 L537.12,364.39 L537.91,366.22 L537.97,366.38 L538.74,368.13 L539.43,369.67 L540.05,371.01 L540.11,371.13 L540.61,372.16 L541.12,373.14 L541.57,373.97 L541.98,374.67 L542.31,375.21 L542.34,375.26 L542.67,375.74 L542.97,376.15 L543.23,376.48 L543.47,376.76 L543.69,376.99 L543.88,377.18 L544.05,377.33 L544.21,377.46 L544.35,377.57 L544.48,377.65 L544.52,377.68 L544.59,377.72 L544.70,377.78 L544.79,377.83 L544.87,377.87 L544.94,377.90 L545.01,377.93 L545.07,377.95 L545.13,377.97 L545.18,377.99 L545.22,378.00 L545.26,378.01 L545.29,378.02 L545.33,378.03 L545.35,378.03 L545.38,378.04 L545.40,378.04 L545.42,378.05 L545.44,378.05 L545.46,378.05 L545.48,378.06 L545.49,378.06 L545.50,378.06 L545.51,378.06 L545.52,378.06 L545.53,378.06 L545.54,378.07 L545.55,378.07 L545.55,378.07 L545.56,378.07 L545.56,378.07 L545.57,378.07 L545.57,378.07 L545.58,378.07 L545.58,378.07 L545.58,378.07 L545.59,378.07 L545.59,378.07 L545.59,378.07 L545.59,378.07 L545.60,378.07 L545.60,378.07 L545.61,378.07 L545.63,378.07 L545.63,378.07 L545.63,378.07 L545.63,378.07 L545.63,378.08 L545.64,378.08 L545.64,378.08 L545.64,378.08 L545.65,378.08 L545.65,378.08 L545.65,378.08 L545.66,378.08 L545.66,378.08 L545.67,378.08 L545.68,378.08 L545.68,378.08 L545.69,378.08 L545.70,378.08 L545.71,378.08 L545.72,378.08 L545.73,378.08 L545.75,378.08 L545.76,378.08 L545.78,378.08 L545.80,378.08 L545.82,378.08 L545.84,378.08 L545.87,378.08 L545.90,378.08 L545.93,378.08 L545.97,378.07 L546.00,378.07 L546.05,378.06 L546.10,378.06 L546.15,378.05 L546.21,378.04 L546.28,378.02 L546.35,378.00 L546.44,377.98 L546.53,377.95 L546.63,377.90 L546.72,377.87 L546.75,377.85 L546.87,377.79 L547.01,377.71 L547.17,377.61 L547.34,377.49 L547.54,377.33 L547.75,377.14 L547.99,376.91 L548.26,376.62 L548.55,376.27 L548.88,375.84 L548.92,375.78 L549.25,375.32 L549.66,374.69 L550.11,373.94 L550.61,373.05 L551.13,372.08 L551.17,372.00 L551.79,370.77 L552.48,369.35 L553.25,367.73 L553.33,367.55 L554.10,365.89 L555.05,363.84 L555.54,362.80 L556.11,361.57 L557.28,359.10 L557.74,358.15 L558.59,356.43 L559.94,353.76 L560.04,353.58 L561.65,350.57 L562.15,349.69 L563.44,347.43 L564.35,345.92 L565.44,344.17 L566.55,342.45 L567.65,340.82 L568.76,339.26 L570.12,337.40 L570.96,336.30 L572.86,333.93 L573.16,333.57 L575.37,331.03 L575.91,330.43 L577.57,328.66 L579.29,326.92 L579.77,326.46 L581.98,324.39 L583.06,323.42 L584.18,322.44 L586.38,320.61 L587.25,319.92 L588.59,318.89 L590.79,317.25 L591.90,316.45 L592.99,315.69 L595.20,314.21 L597.08,313.00 L597.40,312.80 L599.61,311.45 L601.81,310.15 L602.84,309.56 L604.01,308.90 L606.22,307.70 L608.42,306.54 L609.23,306.11 L610.62,305.41 L612.83,304.32 L615.03,303.26 L616.35,302.64 L617.23,302.24 L619.44,301.24 L621.64,300.29 L623.84,299.36 L624.26,299.19 L626.05,298.46 L628.25,297.60 L630.45,296.76 L632.66,295.96 L633.05,295.82 L634.86,295.19 L637.06,294.45 L639.27,293.75 L641.47,293.08 L642.83,292.68 L643.67,292.44 L645.88,291.84 L648.08,291.27 L650.29,290.74 L652.49,290.25 L653.70,289.99 L654.69,289.79 L656.90,289.38 L659.10,289.00 L661.30,288.67 L663.51,288.38 L665.71,288.14 L665.78,288.13 L667.91,287.94 L670.12,287.78 L672.32,287.68 L674.52,287.62 L676.73,287.62 L678.93,287.67 L679.22,287.68 L681.13,287.60" stroke="#f00" />
<path d="M385.87,270.49 L388.07,270.88 L390.27,271.28 L392.48,271.69 L394.58,272.08 L394.68,272.10 L396.88,272.52 L399.09,272.94 L401.29,273.37 L403.49,273.80 L405.70,274.24 L407.90,274.69 L409.52,275.03 L410.10,275.15 L412.31,275.62 L414.51,276.09 L416.71,276.57 L418.92,277.06 L421.12,277.57 L422.95,277.99 L423.33,278.08 L425.53,278.60 L427.73,279.14 L429.94,279.69 L432.14,280.25 L434.34,280.83 L435.04,281.02 L436.55,281.42 L438.75,282.03 L440.95,282.65 L443.16,283.30 L445.36,283.96 L445.91,284.13 L447.56,284.64 L449.77,285.34 L451.97,286.06 L454.17,286.81 L455.69,287.33 L456.38,287.58 L458.58,288.37 L460.78,289.20 L462.99,290.05 L464.48,290.64 L465.19,290.93 L467.40,291.84 L469.60,292.79 L471.80,293.78 L472.39,294.05 L474.01,294.80 L476.21,295.86 L478.41,296.97 L479.50,297.53 L480.62,298.12 L482.82,299.32 L485.02,300.57 L485.90,301.09 L487.23,301.88 L489.43,303.24 L491.63,304.67 L491.66,304.68 L493.84,306.16 L496.04,307.72 L496.83,308.30 L498.24,309.36 L500.45,311.07 L501.49,311.91 L502.65,312.87 L504.85,314.77 L505.68,315.50 L507.06,316.76 L509.26,318.85 L509.44,319.02 L511.47,321.05 L512.83,322.47 L513.67,323.36 L515.87,325.80 L515.88,325.80 L518.08,328.35 L518.62,329.00 L520.28,331.04 L521.08,332.05 L522.48,333.84 L523.30,334.91 L524.69,336.75 L525.29,337.57 L526.89,339.75 L527.09,340.02 L528.70,342.26 L529.09,342.80 L530.15,344.26 L531.30,345.83 L531.46,346.05 L532.63,347.62 L533.50,348.75 L533.69,348.98 L534.63,350.16 L535.49,351.17 L535.70,351.41 L536.26,352.02 L536.95,352.74 L537.57,353.35 L537.91,353.65 L538.13,353.85 L538.63,354.26 L539.08,354.61 L539.49,354.89 L539.85,355.12 L540.11,355.27 L540.18,355.32 L540.48,355.47 L540.75,355.60 L540.99,355.71 L541.20,355.79 L541.39,355.86 L541.57,355.92 L541.72,355.97 L541.87,356.01 L541.99,356.04 L542.11,356.07 L542.21,356.09 L542.30,356.10 L542.31,356.11 L542.38,356.12 L542.46,356.13 L542.53,356.14 L542.59,356.15 L542.64,356.16 L542.69,356.16 L542.73,356.17 L542.77,356.17 L542.81,356.17 L542.84,356.18 L542.87,356.18 L542.89,356.18 L542.92,356.18 L542.94,356.18 L542.96,356.18 L542.98,356.19 L542.99,356.19 L543.00,356.19 L543.02,356.19 L543.03,356.19 L543.04,356.19 L543.05,356.19 L543.05,356.19 L543.06,356.19 L543.07,356.19 L543.07,356.19 L543.08,356.19 L543.08,356.19 L543.09,356.19 L543.09,356.19 L543.10,356.19 L543.10,356.19 L543.10,356.19 L543.10,356.19 L543.11,356.19 L543.11,356.19 L543.11,356.19 L543.11,356.19 L543.13,356.19 L543.14,356.19 L543.14,356.19 L543.14,356.19 L543.15,356.19 L543.15,356.19 L543.15,356.19 L543.15,356.19 L543.16,356.19 L543.16,356.19 L543.16,356.19 L543.17,356.19 L543.17,356.19 L543.18,356.19 L543.18,356.19 L543.19,356.19 L543.20,356.19 L543.21,356.19 L543.22,356.19 L543.22,356.19 L543.24,356.19 L543.25,356.19 L543.26,356.19 L543.28,356.19 L543.29,356.19 L543.31,356.19 L543.33,356.19 L543.36,356.19 L543.38,356.19 L543.41,356.19 L543.44,356.19 L543.48,356.19 L543.52,356.19 L543.56,356.19 L543.61,356.18 L543.67,356.18 L543.73,356.18 L543.79,356.17 L543.87,356.16 L543.95,356.15 L544.04,356.14 L544.15,356.13 L544.26,356.11 L544.39,356.08 L544.52,356.05 L544.53,356.05 L544.68,356.01 L544.86,355.97 L545.05,355.91 L545.27,355.84 L545.51,355.74 L545.77,355.63 L546.07,355.49 L546.40,355.32 L546.72,355.14 L546.76,355.11 L547.17,354.85 L547.62,354.53 L548.12,354.15 L548.68,353.68 L548.92,353.47 L549.30,353.12 L550.00,352.44 L550.76,351.63 L551.13,351.23 L551.62,350.68 L552.57,349.56 L553.33,348.63 L553.62,348.26 L554.80,346.77 L555.54,345.81 L556.10,345.07 L557.55,343.16 L557.74,342.91 L559.16,341.04 L559.94,340.02 L560.96,338.71 L562.15,337.20 L562.95,336.19 L564.35,334.48 L565.17,333.50 L566.55,331.88 L567.63,330.64 L568.76,329.40 L570.37,327.67 L570.96,327.06 L573.16,324.84 L573.42,324.59 L575.37,322.75 L576.81,321.44 L577.57,320.77 L579.77,318.91 L580.57,318.26 L581.98,317.15 L584.18,315.48 L584.76,315.05 L586.38,313.90 L588.59,312.40 L589.42,311.86 L590.79,310.98 L592.99,309.62 L594.59,308.68 L595.20,308.33 L597.40,307.09 L599.61,305.91 L600.35,305.52 L601.81,304.77 L604.01,303.68 L606.22,302.62 L606.75,302.37 L608.42,301.60 L610.62,300.60 L612.83,299.64 L613.86,299.20 L615.03,298.71 L617.23,297.81 L619.44,296.93 L621.64,296.09 L621.77,296.04 L623.84,295.27 L626.05,294.47 L628.25,293.71 L630.45,292.97 L630.56,292.93 L632.66,292.26 L634.86,291.57 L637.06,290.92 L639.27,290.29 L640.34,289.99 L641.47,289.69 L643.67,289.11 L645.88,288.57 L648.08,288.06 L650.29,287.57 L651.21,287.38 L652.49,287.12 L654.69,286.70 L656.90,286.31 L659.10,285.96 L661.30,285.64 L663.30,285.37 L663.51,285.35 L665.71,285.10 L667.91,284.88 L670.12,284.71 L672.32,284.57 L674.52,284.47 L676.73,284.41 L676.73,284.41 L678.93,284.39 L681.13,284.31" stroke="#f00" stroke-dasharray="9.5 8.5" stroke-dashoffset="10.18"/>
<path d="M385.87,267.41 L388.07,267.67 L389.03,267.80 L390.27,267.96 L392.48,268.26 L394.68,268.56 L396.88,268.87 L399.09,269.19 L401.29,269.52 L403.49,269.85 L403.97,269.92 L405.70,270.19 L407.90,270.55 L410.10,270.91 L412.31,271.29 L414.51,271.68 L416.71,272.08 L417.40,272.20 L418.92,272.49 L421.12,272.92 L423.33,273.36 L425.53,273.81 L427.73,274.28 L429.49,274.67 L429.94,274.77 L432.14,275.28 L434.34,275.80 L436.55,276.34 L438.75,276.91 L440.36,277.33 L440.95,277.49 L443.16,278.10 L445.36,278.72 L447.56,279.38 L449.77,280.05 L450.14,280.17 L451.97,280.76 L454.17,281.49 L456.38,282.24 L458.58,283.03 L458.93,283.16 L460.78,283.85 L462.99,284.70 L465.19,285.59 L466.84,286.27 L467.40,286.51 L469.60,287.47 L471.80,288.46 L473.95,289.47 L474.01,289.49 L476.21,290.57 L478.41,291.69 L480.35,292.71 L480.62,292.85 L482.82,294.06 L485.02,295.32 L486.11,295.95 L487.23,296.63 L489.43,297.98 L491.28,299.16 L491.63,299.39 L493.84,300.85 L495.94,302.29 L496.04,302.36 L498.24,303.92 L500.13,305.30 L500.45,305.54 L502.65,307.20 L503.89,308.16 L504.85,308.92 L507.06,310.67 L507.28,310.85 L509.26,312.47 L510.33,313.35 L511.47,314.30 L513.07,315.64 L513.67,316.14 L515.53,317.71 L515.87,318.00 L517.75,319.56 L518.08,319.84 L519.74,321.20 L520.28,321.64 L521.53,322.64 L522.48,323.38 L523.15,323.89 L524.60,324.95 L524.69,325.02 L525.90,325.87 L526.89,326.52 L527.08,326.64 L528.13,327.29 L529.08,327.83 L529.09,327.84 L529.94,328.28 L530.70,328.66 L531.30,328.93 L531.40,328.97 L532.02,329.23 L532.58,329.44 L533.08,329.62 L533.50,329.75 L533.53,329.76 L533.94,329.88 L534.30,329.98 L534.63,330.06 L534.93,330.13 L535.19,330.19 L535.43,330.23 L535.65,330.27 L535.70,330.28 L535.84,330.30 L536.02,330.33 L536.17,330.35 L536.31,330.37 L536.44,330.39 L536.55,330.40 L536.66,330.41 L536.75,330.42 L536.83,330.43 L536.91,330.43 L536.97,330.44 L537.03,330.45 L537.09,330.45 L537.14,330.45 L537.18,330.46 L537.22,330.46 L537.26,330.46 L537.29,330.46 L537.32,330.47 L537.34,330.47 L537.37,330.47 L537.39,330.47 L537.41,330.47 L537.42,330.47 L537.44,330.47 L537.45,330.47 L537.46,330.47 L537.48,330.47 L537.48,330.47 L537.49,330.47 L537.50,330.48 L537.51,330.48 L537.52,330.48 L537.52,330.48 L537.53,330.48 L537.53,330.48 L537.54,330.48 L537.54,330.48 L537.54,330.48 L537.55,330.48 L537.55,330.48 L537.55,330.48 L537.55,330.48 L537.56,330.48 L537.56,330.48 L537.56,330.48 L537.57,330.48 L537.59,330.48 L537.59,330.48 L537.59,330.48 L537.59,330.48 L537.60,330.48 L537.60,330.48 L537.60,330.48 L537.61,330.48 L537.61,330.48 L537.61,330.48 L537.62,330.48 L537.62,330.48 L537.63,330.48 L537.63,330.48 L537.64,330.48 L537.65,330.48 L537.65,330.48 L537.66,330.48 L537.67,330.48 L537.68,330.48 L537.70,330.48 L537.71,330.48 L537.73,330.48 L537.74,330.48 L537.76,330.49 L537.78,330.49 L537.80,330.49 L537.83,330.49 L537.86,330.49 L537.89,330.49 L537.91,330.49 L537.93,330.49 L537.97,330.49 L538.01,330.49 L538.06,330.49 L538.11,330.49 L538.17,330.49 L538.24,330.49 L538.32,330.49 L538.40,330.49 L538.49,330.49 L538.59,330.49 L538.71,330.48 L538.83,330.48 L538.97,330.47 L539.13,330.46 L539.31,330.45 L539.50,330.44 L539.71,330.42 L539.95,330.39 L540.11,330.37 L540.22,330.36 L540.52,330.32 L540.85,330.26 L541.21,330.20 L541.62,330.11 L542.07,330.01 L542.31,329.94 L542.57,329.87 L543.13,329.71 L543.75,329.50 L544.44,329.25 L544.52,329.22 L545.21,328.94 L546.07,328.57 L546.72,328.25 L547.01,328.11 L548.07,327.55 L548.92,327.07 L549.24,326.89 L550.55,326.09 L551.13,325.72 L552.00,325.15 L553.33,324.25 L553.61,324.06 L555.41,322.78 L555.54,322.69 L557.40,321.33 L557.74,321.08 L559.62,319.68 L559.94,319.44 L562.08,317.85 L562.15,317.80 L564.35,316.17 L564.82,315.82 L566.55,314.57 L567.87,313.63 L568.76,313.00 L570.96,311.48 L571.26,311.28 L573.16,310.01 L575.02,308.81 L575.37,308.59 L577.57,307.22 L579.21,306.24 L579.77,305.91 L581.98,304.64 L583.87,303.60 L584.18,303.43 L586.38,302.26 L588.59,301.15 L589.04,300.92 L590.79,300.07 L592.99,299.04 L594.80,298.23 L595.20,298.05 L597.40,297.10 L599.61,296.18 L601.20,295.54 L601.81,295.30 L604.01,294.44 L606.22,293.62 L608.31,292.86 L608.42,292.82 L610.62,292.05 L612.83,291.30 L615.03,290.58 L616.22,290.20 L617.23,289.88 L619.44,289.21 L621.64,288.56 L623.84,287.93 L625.01,287.61 L626.05,287.33 L628.25,286.75 L630.45,286.20 L632.66,285.66 L634.79,285.17 L634.86,285.15 L637.06,284.67 L639.27,284.20 L641.47,283.76 L643.67,283.35 L645.66,282.99 L645.88,282.95 L648.08,282.59 L650.29,282.24 L652.49,281.92 L654.69,281.62 L656.90,281.35 L657.75,281.26 L659.10,281.11 L661.30,280.89 L663.51,280.69 L665.71,280.53 L667.91,280.39 L670.12,280.27 L671.18,280.23 L672.32,280.19 L674.52,280.13 L676.73,280.10 L678.93,280.10 L681.13,280.07" stroke="#00f" stroke-dasharray="10 4.5 3 4.5" stroke-dashoffset="0.00"/>
</g>
<rect x="386.6" y="254.5" width="293.8" height="237.0" fill="none" stroke="#1a1a1a" stroke-width="1.1"/>
<path d="M386.6,491.5 v-2.6 M423.3,491.5 v-1.6 M460.1,491.5 v-2.6 M496.8,491.5 v-1.6 M533.5,491.5 v-2.6 M570.2,491.5 v-1.6 M607.0,491.5 v-2.6 M643.7,491.5 v-1.6 M680.4,491.5 v-2.6 M386.6,254.5 h2.4 M386.6,301.9 h2.4 M386.6,349.3 h2.4 M386.6,396.7 h2.4 M386.6,444.1 h2.4" stroke="#222" stroke-width="1.1" fill="none"/>
<g class="tk">
<text x="386.6" y="502.9" text-anchor="middle">2</text>
<text x="460.1" y="502.9" text-anchor="middle">3</text>
<text x="533.5" y="502.9" text-anchor="middle">4</text>
<text x="607.0" y="502.9" text-anchor="middle">5</text>
<text x="680.4" y="502.9" text-anchor="middle">6</text>
<text x="384.0" y="257.6" text-anchor="end">0</text>
<text x="384.0" y="305.0" text-anchor="end">-10</text>
<text x="384.0" y="352.4" text-anchor="end">-20</text>
<text x="384.0" y="399.8" text-anchor="end">-30</text>
<text x="384.0" y="447.2" text-anchor="end">-40</text>
</g>
<g stroke-width="1.6" fill="none">
<path d="M622.6,420.2 h29" stroke="#000" />
<path d="M622.6,435.8 h29" stroke="#000" stroke-dasharray="9.5 8.5"/>
<path d="M622.6,451.2 h29" stroke="#f00" />
<path d="M622.6,466.1 h29" stroke="#f00" stroke-dasharray="9.5 8.5"/>
<path d="M622.6,481.5 h29" stroke="#00f" stroke-dasharray="10 4.5 3 4.5"/>
</g>
<g class="lg">
<text x="653.8" y="424.4">34℃</text>
<text x="653.8" y="440.0">36℃</text>
<text x="653.8" y="455.4">38℃</text>
<text x="653.8" y="470.3">40℃</text>
<text x="653.8" y="485.7">42℃</text>
</g>
<text class="ax" x="533.1" y="521.4" text-anchor="middle">Frequency(GHz)</text>
<text class="ax" transform="translate(364.6,372.5) rotate(-90)" text-anchor="middle">S<tspan dy="2.5" style="font-size:8px">11</tspan><tspan dy="-2.5">(dB)</tspan></text>
<text class="cap" x="534.9" y="543.7" text-anchor="middle">(c)</text>
</svg>
</body></html>
